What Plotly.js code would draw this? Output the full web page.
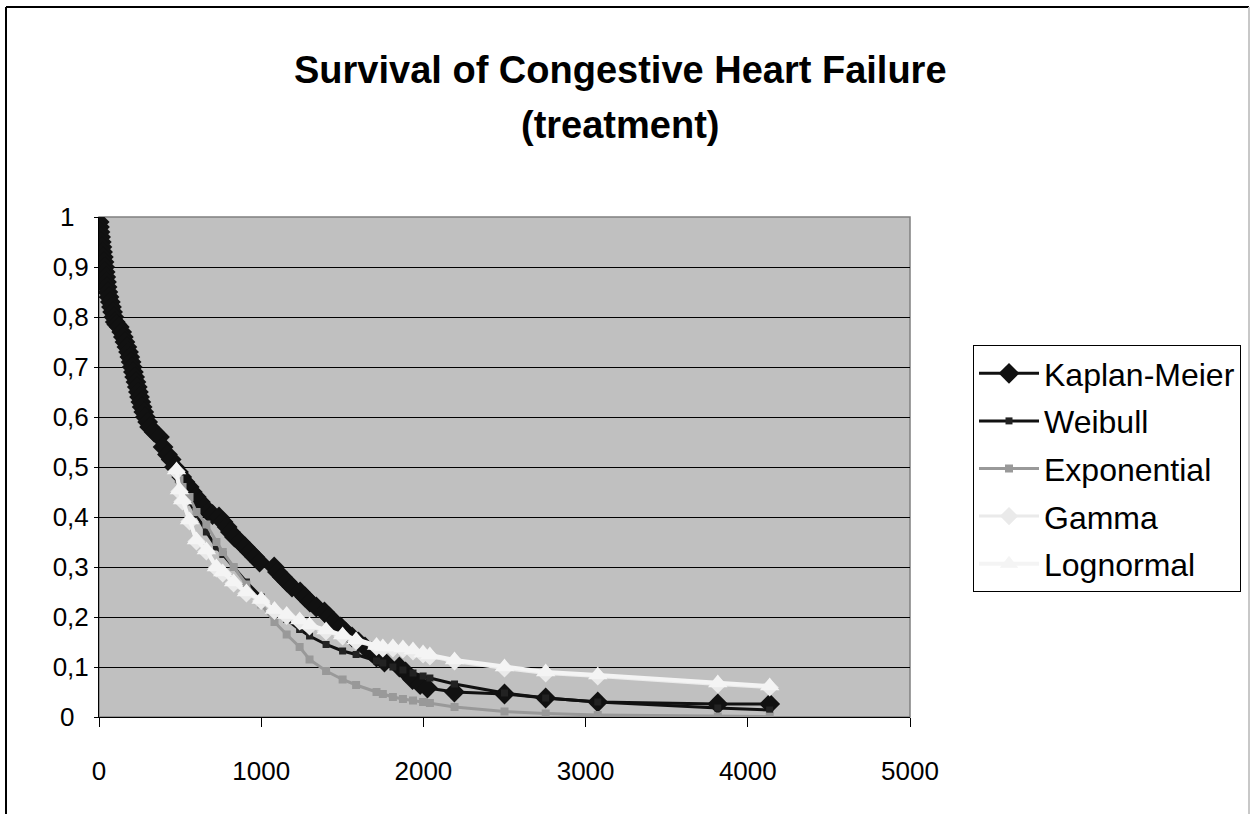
<!DOCTYPE html>
<html>
<head>
<meta charset="utf-8">
<script src="https://cdn.plot.ly/plotly-3.0.1.min.js"></script>
<style>html,body{margin:0;padding:0;background:#fff;}#chart{width:1253px;height:814px;}</style>
</head>
<body>
<div id="chart"></div>
<script>
// Kaplan-Meier estimate
const kmTime = [1,3,6,10,14,18,22,27,31,35,38,42,46,50,55,62,70,77,84,92,100,110,125,140,150,160,172,182,190,198,205,212,220,228,236,243,250,258,266,276,286,300,312,340,373,395,422,445,465,490,510,530,556,575,600,625,650,675,700,740,765,790,810,835,870,900,930,960,990,1080,1100,1130,1160,1190,1240,1270,1300,1340,1390,1420,1450,1490,1520,1560,1600,1640,1680,1711,1760,1852,1890,1933,1980,2025,2191,2500,2754,3075,3815,4135];
const kmSurv = [0.99,0.98,0.97,0.96,0.95,0.94,0.93,0.92,0.91,0.90,0.89,0.88,0.87,0.86,0.85,0.84,0.83,0.82,0.81,0.80,0.79,0.785,0.78,0.77,0.76,0.75,0.74,0.73,0.72,0.71,0.70,0.69,0.68,0.67,0.66,0.65,0.64,0.63,0.62,0.61,0.60,0.59,0.58,0.57,0.56,0.54,0.525,0.515,0.50,0.49,0.48,0.47,0.46,0.45,0.44,0.43,0.42,0.41,0.405,0.40,0.39,0.38,0.37,0.36,0.35,0.34,0.33,0.32,0.31,0.30,0.29,0.28,0.27,0.26,0.25,0.24,0.23,0.22,0.21,0.20,0.19,0.18,0.17,0.16,0.15,0.14,0.13,0.12,0.11,0.10,0.09,0.075,0.065,0.058,0.05,0.046,0.038,0.03,0.026,0.026];

// fitted models, evaluated at the same event times
const modelTime = [478,496,515,558,601,662,724,763,830,909,1000,1082,1157,1237,1298,1400,1502,1585,1711,1750,1812,1874,1936,1998,2040,2192,2500,2754,3075,3815,4135];
const weibull = [0.49,0.475,0.46,0.43,0.405,0.37,0.34,0.325,0.30,0.27,0.24,0.215,0.195,0.175,0.162,0.145,0.132,0.125,0.112,0.108,0.10,0.094,0.088,0.082,0.078,0.066,0.048,0.038,0.030,0.018,0.014];
const exponential = [0.49,0.475,0.46,0.44,0.41,0.385,0.35,0.33,0.30,0.265,0.225,0.19,0.165,0.14,0.115,0.092,0.075,0.064,0.05,0.046,0.04,0.036,0.033,0.03,0.028,0.02,0.011,0.007,0.004,0.001,0.0007];
const gamma = [0.491,0.451,0.431,0.391,0.351,0.331,0.297,0.287,0.267,0.247,0.232,0.212,0.202,0.191,0.181,0.171,0.161,0.151,0.140,0.137,0.137,0.135,0.131,0.125,0.121,0.111,0.097,0.087,0.081,0.065,0.059];
const lognormal = [0.494,0.454,0.434,0.394,0.354,0.334,0.30,0.29,0.27,0.25,0.235,0.215,0.205,0.194,0.184,0.174,0.164,0.154,0.143,0.14,0.14,0.138,0.134,0.128,0.124,0.114,0.10,0.09,0.084,0.068,0.062];

const seriesNames = ['Kaplan-Meier','Weibull','Exponential','Gamma','Lognormal'];
const yTickVals = [0,0.1,0.2,0.3,0.4,0.5,0.6,0.7,0.8,0.9,1];
const yTickText = ['0\u00a0\u00a0','0,1','0,2','0,3','0,4','0,5','0,6','0,7','0,8','0,9','1\u00a0\u00a0'];
const xTickVals = [0,1000,2000,3000,4000,5000];
const titleLines = ['Survival of Congestive Heart Failure', '(treatment)'];

const FONT = 'Arial, "Liberation Sans", sans-serif';

const traces = [
  {x: kmTime, y: kmSurv, name: seriesNames[0], mode: 'lines+markers',
   line: {color: '#111111', width: 3}, marker: {symbol: 'diamond', size: 16, color: '#111111'}},
  {x: modelTime, y: weibull, name: seriesNames[1], mode: 'lines+markers',
   line: {color: '#111111', width: 3}, marker: {symbol: 'square', size: 7, color: '#222222'}},
  {x: modelTime, y: exponential, name: seriesNames[2], mode: 'lines+markers',
   line: {color: '#999999', width: 3}, marker: {symbol: 'square', size: 8, color: '#999999'}},
  {x: modelTime, y: gamma, name: seriesNames[3], mode: 'lines+markers',
   line: {color: '#eaeaea', width: 3}, marker: {symbol: 'diamond', size: 14, color: '#eaeaea'}},
  {x: modelTime, y: lognormal, name: seriesNames[4], mode: 'lines+markers',
   line: {color: '#f4f4f4', width: 4}, marker: {symbol: 'triangle-up', size: 17, color: '#f4f4f4'}}
];
traces.forEach((t, i) => { t.legendgroup = 'g' + i; t.hoverinfo = 'skip'; });

const W = 811, H = 500, ML = 99, MT = 217;
function px(x) { return (x - ML) / W; }
function py(y) { return 1 - (y - MT) / H; }

const layout = {
  width: 1253, height: 814,
  margin: {l: ML, r: 1253 - ML - W, t: MT, b: 814 - MT - H, pad: 0},
  paper_bgcolor: '#ffffff',
  plot_bgcolor: '#c0c0c0',
  font: {family: FONT, color: '#000000', size: 26},
  showlegend: true,
  legend: {x: px(973), y: py(345), xanchor: 'left', yanchor: 'top',
           bgcolor: '#ffffff', bordercolor: '#000000', borderwidth: 1,
           font: {family: FONT, size: 32, color: '#000'},
           itemwidth: 60,
           traceorder: 'grouped', tracegroupgap: 3},
  xaxis: {range: [0, 5000], tickvals: xTickVals, ticktext: xTickVals.map(String),
          showgrid: false, zeroline: false, showline: true, linecolor: '#000', linewidth: 1,
          ticks: 'outside', ticklen: 9, tickcolor: '#000', tickwidth: 1,
          ticklabelstandoff: 22,
          tickfont: {family: FONT, size: 26}, fixedrange: true},
  yaxis: {range: [0, 1], tickvals: yTickVals, ticktext: yTickText,
          showgrid: true, gridcolor: '#000000', gridwidth: 1, zeroline: false,
          showline: true, linecolor: '#000', linewidth: 1,
          ticks: 'outside', ticklen: 4, tickcolor: '#000', tickwidth: 1,
          tickfont: {family: FONT, size: 26}, fixedrange: true},
  annotations: [
    {text: '<b>' + titleLines[0] + '</b>', xref: 'paper', yref: 'paper', x: px(620), y: py(70),
     xanchor: 'center', yanchor: 'middle', showarrow: false, font: {family: FONT, size: 38}},
    {text: '<b>' + titleLines[1] + '</b>', xref: 'paper', yref: 'paper', x: px(620), y: py(125),
     xanchor: 'center', yanchor: 'middle', showarrow: false, font: {family: FONT, size: 38}}
  ],
  shapes: [
    {type: 'rect', xref: 'paper', yref: 'paper', x0: 0, x1: 1, y0: 0, y1: 1,
     line: {color: '#808080', width: 1.5}, layer: 'below'},
    {type: 'line', xref: 'paper', yref: 'paper', x0: px(6), x1: px(1249), y0: py(7), y1: py(7), line: {color: '#000', width: 2}},
    {type: 'line', xref: 'paper', yref: 'paper', x0: px(6), x1: px(6), y0: py(7), y1: py(820), line: {color: '#000', width: 2}},
    {type: 'line', xref: 'paper', yref: 'paper', x0: px(1249), x1: px(1249), y0: py(7), y1: py(820), line: {color: '#c8c8c8', width: 2}}
  ]
};

Plotly.newPlot('chart', traces, layout, {displayModeBar: false, staticPlot: true});
</script>
</body>
</html>
